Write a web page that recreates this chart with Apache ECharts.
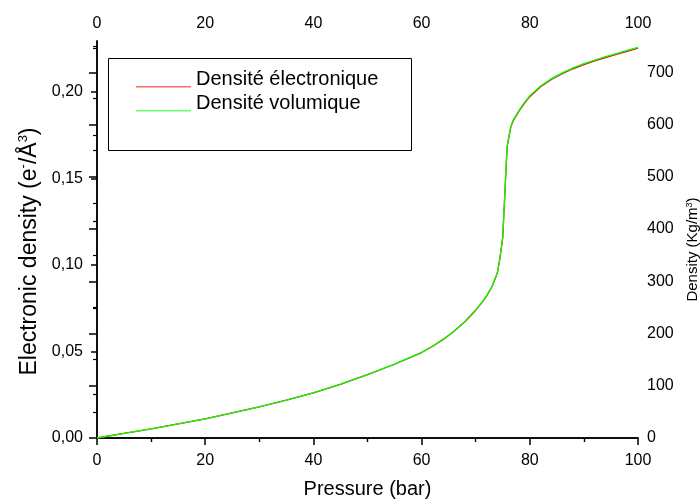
<!DOCTYPE html>
<html>
<head>
<meta charset="utf-8">
<script src="https://cdn.jsdelivr.net/npm/echarts@6/dist/echarts.min.js"></script>
<style>
  html, body { margin: 0; padding: 0; background: #fff; }
  #chart { width: 700px; height: 499px; }
</style>
</head>
<body>
<div id="chart"></div>
<script>
// CO2 isotherm: pressure (bar) against electron density and mass density
const pressure = [0, 5, 10, 15, 20, 25, 30, 35, 40, 45, 50, 55, 60, 62, 64, 66, 68, 70, 71, 72, 73, 74, 74.5, 75, 75.8, 76.5, 77, 78, 79, 80, 82, 84, 86, 88, 90, 92, 94, 96, 98, 100];
const electronicDensity = [0, 0.00265, 0.0053, 0.00813, 0.01108, 0.01445, 0.01797, 0.02182, 0.02604, 0.031, 0.03657, 0.04259, 0.04936, 0.05286, 0.05695, 0.06164, 0.06718, 0.07381, 0.07757, 0.08193, 0.08735, 0.09518, 0.10415, 0.11589, 0.16796, 0.1797, 0.18361, 0.18873, 0.19324, 0.19716, 0.20287, 0.20709, 0.2104, 0.21326, 0.21567, 0.21777, 0.21973, 0.22154, 0.22334, 0.22515];
const massDensity = [0, 8.8, 17.6, 27, 36.8, 48, 59.7, 72.5, 86.5, 103, 121.5, 141.5, 164, 175.6, 189.2, 204.8, 223.2, 245.2, 257.7, 272.2, 290.2, 316.2, 346, 385, 558, 597, 610, 627, 642, 655, 674, 688, 699, 708.5, 716.5, 723.5, 730, 736, 742, 748];

const pressureTicks = [0, 20, 40, 60, 80, 100];
const pressureMinorTicks = [10, 30, 50, 70, 90];
const electronTicks = [0, 0.05, 0.1, 0.15, 0.2];
const electronMinorTicks = [0.025, 0.075, 0.125, 0.175, 0.225];
const densityTicks = [0, 100, 200, 300, 400, 500, 600, 700];
const densityMinorTicks = [50, 150, 250, 350, 450, 550, 650, 750];

const seriesNames = ['Densité électronique', 'Densité volumique'];

const FONT = 'Liberation Sans, Arial, sans-serif';
const BLACK = '#000';
const line = { show: true, lineStyle: { color: BLACK, width: 1.5 } };
// legend key: a short stroke sitting at the bottom of the key box (near the text baseline)
const LEGEND_KEY = 'path://M0,0h55v0.02h-55z M0,14.5h55v1.5h-55z';

function majorX(position, inside, len) {
  return {
    type: 'value', position, min: 0, max: 100,
    axisLine: line,
    axisTick: { show: true, inside, length: len, customValues: pressureTicks, lineStyle: { color: BLACK, width: 1.5 } },
    axisLabel: { show: true, customValues: pressureTicks, fontSize: 16, color: BLACK, fontFamily: FONT, margin: position === 'bottom' ? 15 : 9 },
    splitLine: { show: false }
  };
}
function minorAxis(position, min, max, values, inside) {
  return {
    type: 'value', position, min, max,
    axisLine: { show: false },
    axisTick: { show: true, inside, length: 4, customValues: values, lineStyle: { color: BLACK, width: 1.2 } },
    axisLabel: { show: false },
    splitLine: { show: false }
  };
}

const ELEC_MAX = 0.2293;
const DENS_MAX = 760;

const xBottom = majorX('bottom', false, 6);
xBottom.name = 'Pressure (bar)';
xBottom.nameLocation = 'middle';
xBottom.nameGap = 41;
xBottom.nameTextStyle = { fontSize: 20, color: BLACK, fontFamily: FONT };

const option = {
  backgroundColor: '#fff',
  animation: false,
  grid: { left: 97, right: 62, top: 41, bottom: 61, containLabel: false, outerBoundsMode: 'none' },
  legend: {
    orient: 'vertical', left: 136, top: 69.5, padding: 0,
    itemWidth: 55, itemHeight: 16, itemGap: 4,
    icon: LEGEND_KEY, symbolKeepAspect: false,
    textStyle: { fontSize: 20, color: BLACK, fontFamily: FONT, lineHeight: 20 },
    data: [
      { name: seriesNames[0], itemStyle: { color: '#ff6a6a' } },
      { name: seriesNames[1], itemStyle: { color: '#6aff6a' } }
    ]
  },
  graphic: [{
    type: 'rect', left: 106, top: 56, silent: true,
    shape: { width: 303, height: 92 },
    style: { fill: 'none', stroke: BLACK, lineWidth: 1 }
  }],
  xAxis: [
    xBottom,
    majorX('top', true, 7),
    minorAxis('bottom', 0, 100, pressureMinorTicks, false),
    minorAxis('top', 0, 100, pressureMinorTicks, true)
  ],
  yAxis: [
    {
      type: 'value', position: 'left', min: 0, max: ELEC_MAX,
      axisLine: line,
      axisTick: { show: true, inside: false, length: 6, customValues: electronTicks, lineStyle: { color: BLACK, width: 1.5 } },
      axisLabel: {
        customValues: electronTicks, fontSize: 16, color: BLACK, fontFamily: FONT, margin: 14,
        formatter: v => v.toFixed(2).replace('.', ',')
      },
      splitLine: { show: false },
      name: '{n|Electronic density (e}{s|-}{n|/Å}{s|3}{n|)}',
      nameLocation: 'middle', nameRotate: 90, nameGap: 54,
      nameTextStyle: {
        color: BLACK, fontFamily: FONT, padding: [0, 24, 0, 0],
        rich: {
          n: { fontSize: 23, color: BLACK, fontFamily: FONT, lineHeight: 25 },
          s: { fontSize: 13, color: BLACK, fontFamily: FONT, verticalAlign: 'top', lineHeight: 25 }
        }
      }
    },
    {
      type: 'value', position: 'right', min: 0, max: DENS_MAX,
      axisLine: line,
      axisTick: { show: true, inside: true, length: 8, customValues: densityTicks, lineStyle: { color: BLACK, width: 1.5 } },
      axisLabel: { customValues: densityTicks, fontSize: 16, color: BLACK, fontFamily: FONT, margin: 9 },
      splitLine: { show: false },
      name: '{n|Density (Kg/m}{s|3}{n|)}',
      nameLocation: 'middle', nameRotate: 90, nameGap: 45,
      nameTextStyle: {
        color: BLACK, fontFamily: FONT, padding: [0, 20, 0, 0],
        rich: {
          n: { fontSize: 15, color: BLACK, fontFamily: FONT, lineHeight: 17 },
          s: { fontSize: 9, color: BLACK, fontFamily: FONT, verticalAlign: 'top', lineHeight: 17 }
        }
      }
    },
    minorAxis('left', 0, ELEC_MAX, electronMinorTicks, false),
    minorAxis('right', 0, DENS_MAX, densityMinorTicks, true)
  ],
  series: [
    {
      name: seriesNames[0], type: 'line', xAxisIndex: 0, yAxisIndex: 0,
      data: pressure.map((p, i) => [p, electronicDensity[i]]),
      showSymbol: false, smooth: false,
      lineStyle: { color: '#ff0000', width: 1.3 }, itemStyle: { color: '#ff0000' }
    },
    {
      name: seriesNames[1], type: 'line', xAxisIndex: 0, yAxisIndex: 1,
      data: pressure.map((p, i) => [p, massDensity[i]]),
      showSymbol: false, smooth: false,
      lineStyle: { color: '#00ff00', width: 1.3 }, itemStyle: { color: '#00ff00' }
    }
  ]
};

echarts.init(document.getElementById('chart'), null, { renderer: 'canvas' }).setOption(option);
</script>
</body>
</html>
